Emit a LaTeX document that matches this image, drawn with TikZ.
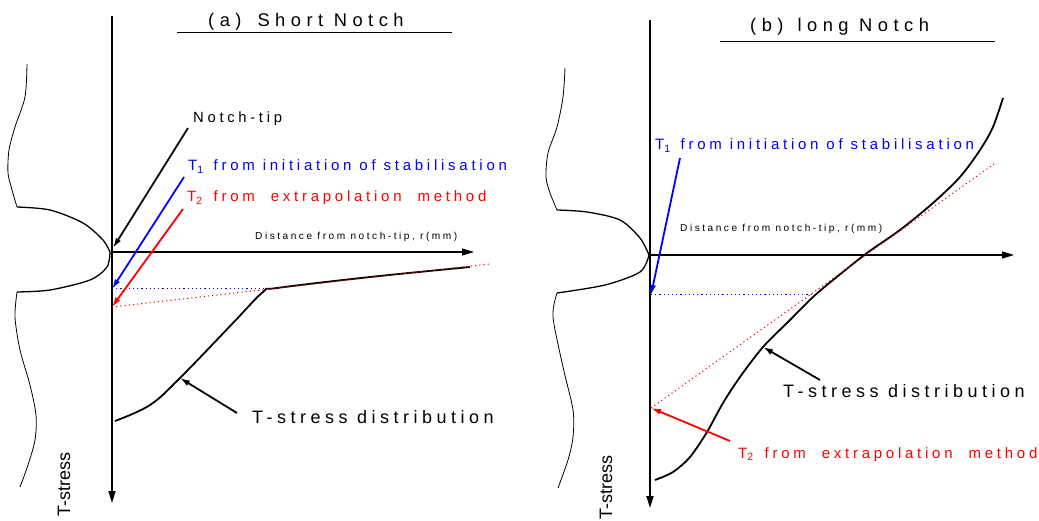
\documentclass[tikz,border=0pt]{standalone}
\usepackage{fontspec}
\setmainfont{Liberation Sans}
\newfontfamily\spaced[LetterSpace=25]{Liberation Sans}
\newfontfamily\widespaced[LetterSpace=30]{Liberation Sans}
\usetikzlibrary{arrows.meta}
\begin{document}
\begin{tikzpicture}[x=1pt,y=-1pt,
  axis/.style={line width=1.8pt,-{Triangle[length=12pt,width=7pt]}},
  hairaxis/.style={line width=1.2pt,-{Triangle[length=12pt,width=7pt]}},
  pointer/.style={line width=1.8pt,-{Latex[length=10pt,width=6pt]}},
  curve/.style={line width=1.8pt},
  notchedge/.style={line width=1.3pt},
  wavy/.style={line width=0.8pt},
  lbl/.style={inner sep=0pt,anchor=base west,font=\spaced},
  blueT/.style={blue},
  redT/.style={red},
  dotb/.style={blue,line width=1pt,dash pattern=on 1.2pt off 3pt},
  dotr/.style={red,line width=1pt,dash pattern=on 1.2pt off 3pt}]
\useasboundingbox (0,0) rectangle (1039,521);
%%%%%%%%%%%% (a) Short notch
\draw[line width=1pt] (177,33) -- (452,33);
\node[lbl,font=\widespaced\fontsize{18.3}{18}\selectfont] (ta) at (208,27) {(a)\hspace{16pt}Short Notch};
% notch outline
\draw[wavy] plot[smooth] coordinates {(27,64) (25,97) (15,127) (9,150) (8,173) (12,190) (17,207)};
\draw[notchedge] plot[smooth] coordinates {(17,207) (50,210) (83,223) (103,240) (110,252)};
\draw[notchedge] plot[smooth] coordinates {(110,252) (107,267) (90,280) (50,290) (17,292)};
\draw[wavy] plot[smooth] coordinates {(17,292) (15,317) (20,350) (30,385) (36,415) (35,440) (28,465) (20,487)};
% axes
\coordinate (aO) at (112,252);
\coordinate (aTop) at (112,16);
\coordinate (aBot) at (112,503);
\coordinate (aRight) at (474,252);
\draw[axis] (aTop) -- (aBot);
\draw[hairaxis] (aO) -- (aRight);
\node[lbl,font=\spaced\fontsize{10.1}{11}\selectfont] (dista) at (255,240) {Distance from notch-tip, r(mm)};
\node[inner sep=0pt,anchor=base west,rotate=90,font=\fontsize{18}{18}\selectfont] (tsa) at (70,517) {T-stress};
% curve
\draw[curve] plot[smooth,tension=0.6] coordinates {(115,421) (150,405) (180,378) (233,323) (263,292) (277,288) (370,277) (470,267)};
% dotted
\coordinate (aT1) at (112,289);
\coordinate (aT2) at (112,307);
\draw[dotb] (aT1) -- (274,289);
\draw[dotr] (aT2) -- (489,264);
% labels
\node[lbl,font=\spaced\fontsize{14.8}{15}\selectfont] (ntip) at (193,123) {Notch-tip};
\node[lbl,blueT,font=\spaced\fontsize{15}{15}\selectfont] (at1) at (188,171) {T\textsubscript{1}\hspace{2pt} from initiation of stabilisation};
\node[lbl,redT,font=\spaced\fontsize{15}{15}\selectfont] (at2) at (187,202) {T\textsubscript{2}\hspace{3pt} from\hspace{8pt} extrapolation\hspace{8pt} method};
\node[lbl,font=\spaced\fontsize{18}{18}\selectfont] (adist) at (252,423) {T-stress distribution};
% pointers
\coordinate (pn) at (188,128);
\coordinate (pb) at (184,177);
\coordinate (pr) at (183,209);
\coordinate (pd) at (237,413);
\coordinate (ca) at (180,378);
\draw[pointer] (pn) -- (113,248);
\draw[pointer,blue] (pb) -- (aT1);
\draw[pointer,red] (pr) -- (aT2);
\draw[pointer] (pd) -- (ca);
%%%%%%%%%%%% (b) long notch
\draw[line width=1pt] (720,42) -- (995,42);
\node[lbl,font=\widespaced\fontsize{18.3}{18}\selectfont] (tb) at (750,32) {(b)\hspace{14pt}long Notch};
\draw[wavy] plot[smooth] coordinates {(565,68) (563,97) (557,127) (548,153) (546,177) (550,193) (557,210)};
\draw[notchedge] plot[smooth] coordinates {(557,210) (587,212) (620,220) (640,238) (649,255)};
\draw[notchedge] plot[smooth] coordinates {(649,255) (640,272) (605,285) (557,293)};
\draw[wavy] plot[smooth] coordinates {(557,293) (553,317) (563,367) (573,410) (573,437) (568,460) (558,488)};
\coordinate (bO) at (650,255);
\coordinate (bTop) at (650,20);
\coordinate (bBot) at (650,508);
\coordinate (bRight) at (1014,255);
\draw[axis] (bTop) -- (bBot);
\draw[hairaxis] (bO) -- (bRight);
\node[lbl,font=\spaced\fontsize{10.1}{11}\selectfont] (distb) at (680,232) {Distance from notch-tip, r(mm)};
\node[inner sep=0pt,anchor=base west,rotate=90,font=\fontsize{18}{18}\selectfont] (tsb) at (612,520) {T-stress};
\draw[curve] plot[smooth] coordinates {(655,480) (673,472) (690,457) (707,432) (723,403) (740,377) (763,347) (790,320) (813,297) (833,280) (867,253) (900,230) (933,203) (960,177) (980,150) (993,127) (1003,98)};
\coordinate (bT1) at (651,295);
\coordinate (bT2) at (651,408);
\draw[dotb] (bT1) -- (813,295);
\draw[dotr] (bT2) -- (994,164);
\node[lbl,blueT,font=\spaced\fontsize{15}{15}\selectfont] (bt1) at (655,150) {T\textsubscript{1}\hspace{2pt} from initiation of stabilisation};
\node[lbl,redT,font=\spaced\fontsize{15}{15}\selectfont] (bt2) at (738,458) {T\textsubscript{2}\hspace{3pt} from\hspace{8pt} extrapolation\hspace{8pt} method};
\node[lbl,font=\spaced\fontsize{18}{18}\selectfont] (bdist) at (783,397) {T-stress distribution};
\coordinate (qb) at (680,158);
\coordinate (qr) at (730,441);
\coordinate (qd) at (820,380);
\coordinate (cb) at (763,347);
\draw[pointer,blue] (qb) -- (bT1);
\draw[pointer,red] (qr) -- (bT2);
\draw[pointer] (qd) -- (cb);
\end{tikzpicture}
\end{document}
